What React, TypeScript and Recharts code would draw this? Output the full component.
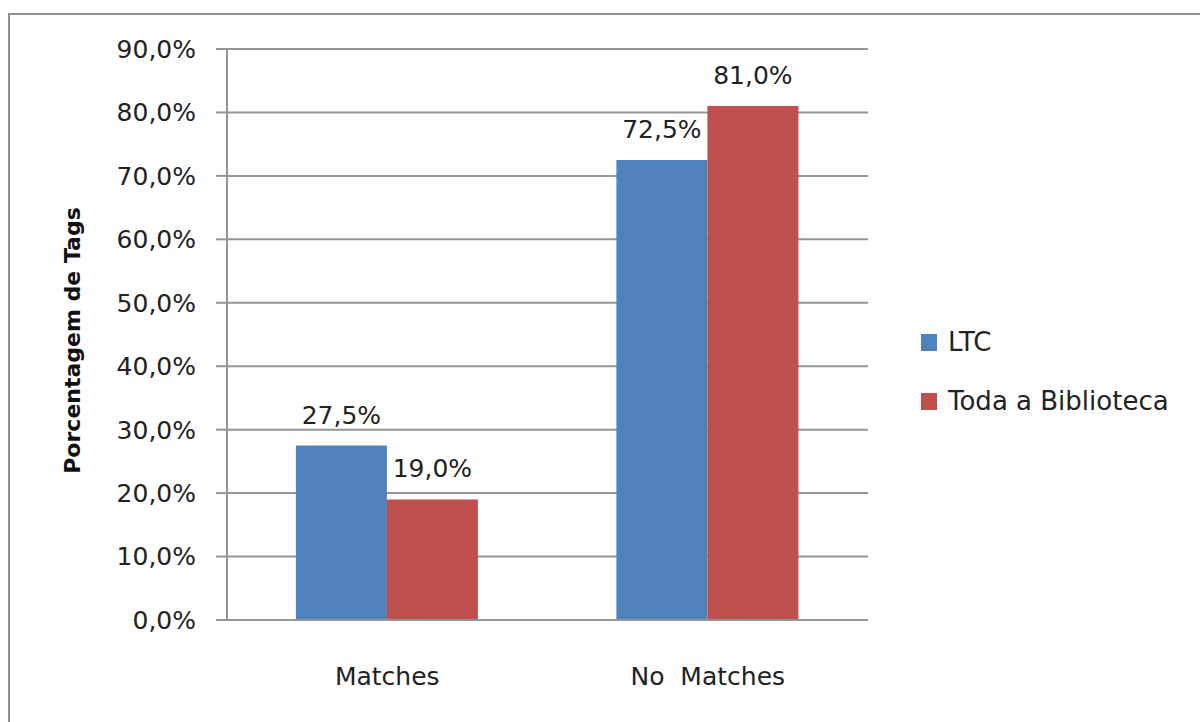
import React from 'react';
import { BarChart, Bar, XAxis, YAxis, CartesianGrid, LabelList } from 'recharts';

// the second category has a double space in the original; a no-break space keeps it
const categories = ['Matches', 'No\u00a0 Matches'];
const ltcValues = [27.5, 72.5];
const bibliotecaValues = [19.0, 81.0];
const yTicks = [0, 10, 20, 30, 40, 50, 60, 70, 80, 90];
const seriesNames = ['LTC', 'Toda a Biblioteca'];
const seriesColors = ['#4F81BD', '#C0504D'];

const chartData = categories.map((name, i) => ({
  name,
  ltc: ltcValues[i],
  biblioteca: bibliotecaValues[i],
}));

const FONT = '"DejaVu Sans", Verdana, sans-serif';
const TEXT_COLOR = '#222';
const GRID_COLOR = '#959595';

// Excel-style number: 27.5 -> "27,5%"
const pct = (v: number) => `${v.toFixed(1).replace('.', ',')}%`;

function AxisTitle(props: any) {
  const { viewBox } = props;
  const cy = viewBox.y + viewBox.height / 2 + 6;
  return (
    <text
      x={72}
      y={cy}
      transform={`rotate(-90, 72, ${cy})`}
      textAnchor="middle"
      dominantBaseline="central"
      fontFamily={FONT}
      fontWeight="bold"
      fontSize={22}
      fill="#111"
    >
      Porcentagem de Tags
    </text>
  );
}

export default function App() {
  return (
    <div
      style={{
        position: 'fixed',
        left: 0,
        top: 0,
        width: 1200,
        height: 722,
        overflow: 'hidden',
        background: '#fff',
        fontFamily: FONT,
      }}
    >
      {/* chart area frame, cut off on the right and bottom like the screenshot */}
      <div
        style={{
          position: 'absolute',
          left: 8,
          top: 13,
          width: 1250,
          height: 800,
          borderTop: '2px solid #909090',
          borderLeft: '2px solid #909090',
        }}
      />
      <div style={{ position: 'absolute', left: 0, top: 0 }}>
        <BarChart
          width={1200}
          height={722}
          data={chartData}
          margin={{ top: 49, right: 332, left: 0, bottom: 0 }}
          barCategoryGap="21.5%"
          barGap={0}
        >
          <CartesianGrid vertical={false} stroke={GRID_COLOR} strokeWidth={2} />
          <XAxis
            dataKey="name"
            height={102}
            axisLine={{ stroke: GRID_COLOR, strokeWidth: 2 }}
            tickLine={false}
            tickSize={0}
            tickMargin={47}
            tick={{ fill: TEXT_COLOR, fontSize: 25, fontFamily: FONT }}
            interval={0}
          />
          <YAxis
            width={227}
            domain={[0, 90]}
            ticks={yTicks}
            interval={0}
            tickFormatter={(v: number) => pct(v)}
            axisLine={{ stroke: GRID_COLOR, strokeWidth: 2 }}
            tickLine={{ stroke: GRID_COLOR, strokeWidth: 2 }}
            tickSize={11}
            tickMargin={20}
            tick={{ fill: TEXT_COLOR, fontSize: 25, fontFamily: FONT }}
            label={<AxisTitle />}
          />
          <Bar dataKey="ltc" name={seriesNames[0]} fill={seriesColors[0]} isAnimationActive={false}>
            <LabelList
              dataKey="ltc"
              position="top"
              offset={22}
              formatter={(v: any) => pct(Number(v))}
              style={{ fill: TEXT_COLOR, fontSize: 25, fontFamily: FONT }}
            />
          </Bar>
          <Bar dataKey="biblioteca" name={seriesNames[1]} fill={seriesColors[1]} isAnimationActive={false}>
            <LabelList
              dataKey="biblioteca"
              position="top"
              offset={22}
              formatter={(v: any) => pct(Number(v))}
              style={{ fill: TEXT_COLOR, fontSize: 25, fontFamily: FONT }}
            />
          </Bar>
        </BarChart>
      </div>
      {/* legend */}
      <div style={{ position: 'absolute', left: 921, top: 325 }}>
        {seriesNames.map((name, i) => (
          <div
            key={name}
            style={{ display: 'flex', alignItems: 'center', height: 34, marginBottom: 25 }}
          >
            <span
              style={{
                display: 'inline-block',
                width: 16,
                height: 17,
                background: seriesColors[i],
                marginRight: 11,
              }}
            />
            <span style={{ fontSize: 26, color: TEXT_COLOR, whiteSpace: 'nowrap' }}>{name}</span>
          </div>
        ))}
      </div>
    </div>
  );
}
